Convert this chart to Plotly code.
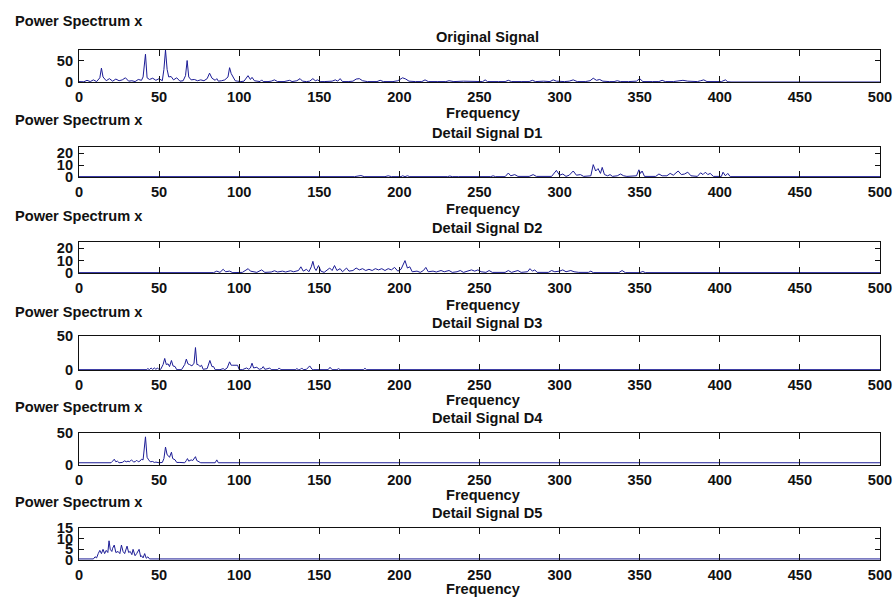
import plotly.graph_objects as go

W, H = 896, 599

# ---------------- data ----------------
orig_freq = [0, 3, 5, 7, 9, 11, 13, 14, 15, 17,
             19, 21, 23, 25, 27, 29, 31, 33, 35, 37,
             39, 40, 41.5, 42.5, 44, 46, 48, 50, 52, 53,
             54, 55, 56, 57.5, 59, 61, 63, 65, 66.5, 67.5,
             68.5, 70, 72, 74, 76, 78, 80, 81.5, 83, 85,
             86, 87, 89, 91, 93, 94, 95, 96, 97.5, 99,
             101, 103, 105.5, 107, 108, 109.5, 111, 113, 114, 115,
             118, 120, 122, 124, 128, 130, 131.5, 133, 136, 138,
             139.5, 142, 144, 146, 147.5, 149, 150.5, 153, 158, 160,
             161.5, 163, 164.5, 168, 171, 173, 175, 177, 180, 186,
             188, 190, 196, 199, 202, 204, 206, 210, 214, 216,
             218, 224, 229, 231, 234, 240, 246, 250, 252, 253.5,
             255, 262, 266, 268, 270, 276, 281, 283, 285, 290,
             294, 296, 298, 303, 306, 308.5, 311, 316, 319, 321,
             323, 325, 327, 331, 334, 336, 338, 343, 348, 350,
             352, 358, 362, 364, 366, 371, 374, 377, 380, 386,
             388, 390, 392, 398, 401, 403.5, 405, 407, 500]
orig_power = [1, 0.5, 4, 1, 5, 1, 10, 33, 12, 3,
              8, 2, 7, 3, 5, 10, 2, 3, 1, 6,
              4, 12, 66, 10, 6, 9, 4, 8, 3, 30,
              76, 30, 12, 13, 5, 10, 2, 3, 15, 51,
              12, 5, 6, 3, 5, 3, 8, 21, 9, 4,
              8, 2, 3, 5, 12, 34, 20, 14, 3, 2,
              1, 2, 15, 6, 11, 3, 2, 1, 5, 1,
              1, 2, 5, 1, 1, 2, 4, 1, 3, 8,
              2, 1, 2, 8, 3, 5, 1, 1, 2, 5,
              2, 8, 1, 1, 2, 7, 8, 3, 1, 1,
              4, 1, 1, 3, 10, 7, 2, 1, 1, 5,
              1, 1, 1, 3, 1, 2, 1, 2, 1, 5,
              1, 1, 1, 4, 1, 1, 1, 4, 1, 2,
              1, 5, 2, 1, 2, 5, 1, 1, 3, 9,
              4, 6, 2, 1, 1, 3, 1, 1, 2, 8,
              1, 1, 1, 4, 1, 1, 2, 4, 2, 1,
              3, 5, 1, 0.5, 1, 5, 0.5, 0, 0]

d1_freq = [0, 172, 176, 178, 191, 193, 195, 201, 202, 203.5,
           205, 206.5, 230, 231.5, 233, 235, 237, 257, 258.5, 260,
           266, 268, 269.5, 272, 274, 281, 283.5, 285.5, 295, 298,
           300, 302, 304, 306, 308.5, 310.5, 313, 315, 319.5, 321,
           322.5, 324, 325.5, 326.6, 328, 330, 331.5, 333, 336, 338,
           340, 342, 345, 348, 349.5, 350.5, 351.5, 353, 360, 362,
           364, 367, 369, 371, 374, 376, 378, 380, 382, 386,
           388, 389.5, 391, 392.5, 394, 396, 401, 402, 403.5, 405,
           406.5, 500]
d1_power = [0.3, 0.3, 1.2, 0.3, 0.3, 1, 0.3, 0.3, 1, 0.3,
            1, 0.3, 0.3, 0.8, 0.3, 0.6, 0.3, 0.3, 1, 0.3,
            0.3, 3.3, 1, 2, 0.5, 0.5, 2, 0.5, 0.5, 5.5,
            1.5, 2.5, 0.5, 1.5, 5, 1.5, 2, 0.5, 1, 10.3,
            5, 7, 3, 8, 2, 1, 2, 0.5, 1, 2.5,
            1, 0.5, 0.5, 1, 6, 3, 5, 0.5, 0.5, 2.5,
            1, 1, 3, 1.5, 5, 2, 2.5, 4, 1, 0.5,
            3.5, 2, 4, 2, 3, 0.5, 0.5, 4, 1, 3,
            0.3, 0.3]

d2_freq = [0, 84, 86, 88, 90, 91.5, 94, 96, 102, 104,
           105.6, 107, 109, 111, 114, 116, 120, 122, 124, 127,
           129, 132, 134, 137, 138.5, 140, 142, 143.5, 145, 146,
           147, 148, 149.5, 151, 153, 155, 156.5, 158, 159.5, 161,
           163, 164.5, 167, 168.5, 171, 173, 175, 177, 179, 181,
           183, 185, 187, 189, 191, 193, 195, 197, 199, 201,
           202.5, 203.5, 205, 206.5, 208, 211, 213, 215, 216.5, 218,
           221, 223, 226, 228, 231, 233, 236, 238, 240, 243,
           245, 247, 249, 251, 254, 256, 258, 266, 268, 270,
           272, 274, 276, 280, 281.5, 283, 284.5, 286, 293, 295,
           297, 300, 302, 304, 307, 309, 312, 318, 319.5, 321,
           337, 339, 341, 350, 352, 353.5, 500]
d2_power = [0.3, 0.3, 1.5, 0.5, 3, 1, 1.5, 0.3, 0.5, 2,
            3.5, 1.5, 1, 0.5, 2.5, 0.5, 0.8, 1.8, 0.8, 1.5,
            0.8, 1.8, 1, 2, 5, 1.5, 3, 1, 5, 9.4,
            4, 2, 6, 1.5, 0.5, 2.5, 4, 2, 6, 2,
            3.5, 1, 4, 1.5, 2, 4, 2.5, 3.5, 2, 3,
            2, 3.5, 2.5, 3.5, 2, 3.5, 2.5, 4.5, 1.5, 3,
            8, 10, 4, 5, 1, 1.5, 0.5, 2, 4.5, 1,
            1.5, 0.8, 2, 1, 2, 0.5, 1, 2, 0.5, 1.5,
            2.5, 1.5, 2.5, 1, 0.5, 2, 0.5, 0.5, 2, 0.5,
            1, 2, 0.5, 1, 3.5, 1.5, 2.5, 0.5, 0.5, 2,
            1, 1.5, 2.5, 1, 2, 1, 0.5, 0.5, 1.5, 0.3,
            0.3, 2, 0.3, 0.3, 1.2, 0.3, 0.3]

d3_freq = [0, 42, 43, 44, 45, 46, 47, 48, 49, 50,
           51, 52.5, 53.5, 54.5, 55.6, 56.5, 57.7, 58.7, 60, 61,
           64, 66, 67, 68, 69, 70.5, 71.8, 72.7, 73.6, 74.4,
           75.5, 76.5, 77.5, 80, 81.7, 83, 84, 85, 88, 90,
           91, 92.5, 94, 95, 96, 98, 99, 100, 102, 104.6,
           106, 107, 108, 109, 111, 112.5, 114, 115, 116, 118,
           119, 120, 124, 125, 126, 135, 136, 137, 138, 139,
           140, 142, 144, 145.5, 146.5, 155.5, 156.7, 158, 161, 162,
           163, 177.5, 178.5, 179.5, 500]
d3_power = [0.5, 0.5, 2, 0.5, 3, 0.8, 3, 1, 3, 0.5,
            1, 8, 17, 8, 9, 5, 14, 6, 5, 0.5,
            0.5, 8, 16, 9, 8, 6, 10, 33, 8, 8,
            5, 7, 1, 2, 14, 5, 5, 0.5, 0.5, 2,
            0.5, 3, 12, 7, 7, 6.5, 7, 0.5, 0.5, 3,
            1, 3, 10, 3, 4, 1, 2, 5, 1, 2,
            3, 0.5, 0.5, 3, 0.5, 0.5, 2, 0.5, 0.5, 3,
            0.5, 1, 6, 1, 0.5, 0.5, 4, 0.5, 0.5, 2,
            0.5, 0.5, 2.5, 0.5, 0.5]

d4_freq = [0, 20, 21, 22, 23, 24, 25, 27, 28.5, 29.5,
           30.6, 31.5, 32.7, 34, 35, 36, 37, 38, 39, 40,
           41.5, 42.5, 43.5, 44.5, 46, 47, 48, 50, 52, 53,
           54, 55, 55.6, 56.5, 57.7, 58.5, 60, 61, 63, 64,
           66, 67, 67.7, 68.5, 70, 71, 72.7, 73.5, 75, 76,
           85, 86, 87, 500]
d4_power = [3.5, 3.5, 6, 9, 5, 6, 3.5, 4, 6.5, 5,
            6, 5, 8, 5, 5, 7.5, 5, 6, 9, 8,
            44, 12, 8, 5, 5.5, 4, 4.5, 3.5, 4, 10,
            28, 16, 15, 12, 20, 10, 8, 4, 4, 3.5,
            3.5, 7, 10, 6, 8, 7, 13, 7, 4, 3.5,
            3.5, 8, 3.5, 3.5]

d5_freq = [0, 9, 10, 11, 12, 13, 14, 15, 16, 17,
           18, 18.75, 19.5, 20.5, 21, 22, 23, 24.4, 25.5, 26.5,
           27.5, 28.5, 30, 31, 32, 33, 33.75, 35, 36, 37.5,
           38.5, 39, 40, 41, 42, 43, 44, 500]
d5_power = [0.5, 0.5, 1.5, 1, 3, 4.5, 3, 5, 3, 4.5,
            3.5, 9, 5, 4, 5.5, 7, 3.5, 4, 3, 7,
            4, 3, 6.5, 3.5, 4, 2.5, 5, 2, 3, 5,
            1.5, 2, 1, 3, 0.8, 1.5, 0.5, 0.5]

titles = ["Original Signal", "Detail Signal D1", "Detail Signal D2",
          "Detail Signal D3", "Detail Signal D4", "Detail Signal D5"]
ylabel_text = "Power Spectrum x"
xlabel_text = "Frequency"
x_ticks = [0, 50, 100, 150, 200, 250, 300, 350, 400, 450, 500]
y_ranges = [[0, 76], [0, 25], [0, 25], [0, 50], [0, 50], [0, 15]]
y_ticks = [[0, 50], [0, 10, 20], [0, 10, 20], [0, 50], [0, 50], [0, 5, 10, 15]]

series = [(orig_freq, orig_power), (d1_freq, d1_power), (d2_freq, d2_power),
          (d3_freq, d3_power), (d4_freq, d4_power), (d5_freq, d5_power)]
for f, p in series:
    assert len(f) == len(p), (len(f), len(p))

# ---------------- layout (pixels) ----------------
box_left, box_right = 79, 880
boxes = [(50, 82), (147, 177), (242, 273), (336, 370), (433, 465), (528, 560)]
pstitle_y = [21, 120, 216, 312, 407, 502]
title_y = [37, 133, 228, 323, 418, 513]
freq_y = [113, 209, 305, 400, 495, 589]
title_cx = 487
freq_cx = 483

FONT = "Arial, Liberation Sans, sans-serif"
FS = 14.6
LINE = "#1c1c96"


def px_x(x):
    return x / W


def px_y(y):
    return 1 - y / H


fig = go.Figure()
annotations = []
layout_axes = {}
for i, ((f, p), (top, bot)) in enumerate(zip(series, boxes)):
    n = "" if i == 0 else str(i + 1)
    fig.add_trace(go.Scatter(x=f, y=p, mode="lines",
                             line=dict(color=LINE, width=1),
                             xaxis="x" + n, yaxis="y" + n,
                             showlegend=False, hoverinfo="skip"))
    common = dict(showline=True, linecolor="#111", linewidth=1, mirror="allticks",
                  ticks="inside", ticklen=6, tickcolor="#111", tickwidth=1,
                  showgrid=False, zeroline=False, automargin=False,
                  tickfont=dict(family=FONT, size=FS, color="#111", weight="bold"))
    layout_axes["xaxis" + n] = dict(common, domain=[px_x(box_left), px_x(box_right)],
                                    range=[0, 500], tickvals=x_ticks,
                                    anchor="y" + n, ticklabelstandoff=1)
    layout_axes["yaxis" + n] = dict(common, domain=[px_y(bot), px_y(top)],
                                    range=y_ranges[i], tickvals=y_ticks[i],
                                    anchor="x" + n, ticklen=5, ticklabelstandoff=2)
    tf = dict(family=FONT, size=FS, color="#111", weight="bold")
    annotations.append(dict(text=ylabel_text, x=px_x(13), y=px_y(pstitle_y[i]),
                            xref="paper", yref="paper", xanchor="left", yanchor="middle",
                            showarrow=False, font=tf))
    annotations.append(dict(text=titles[i], x=px_x(title_cx),
                            y=px_y(title_y[i]), xref="paper", yref="paper",
                            xanchor="center", yanchor="middle", showarrow=False, font=tf))
    annotations.append(dict(text=xlabel_text, x=px_x(freq_cx),
                            y=px_y(freq_y[i]), xref="paper", yref="paper",
                            xanchor="center", yanchor="middle", showarrow=False, font=tf))

fig.update_layout(width=W, height=H,
                  margin=dict(l=0, r=0, t=0, b=0, pad=0, autoexpand=False),
                  paper_bgcolor="white", plot_bgcolor="white",
                  annotations=annotations, **layout_axes)

fig.write_html("out.html")
